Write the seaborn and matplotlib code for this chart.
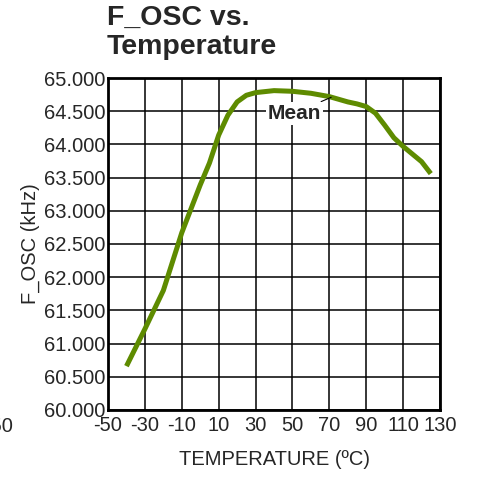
import matplotlib
matplotlib.use('Agg')
import matplotlib.pyplot as plt
import seaborn as sns
import pandas as pd

# Mean F_OSC
temperature = [-40, -30, -20, -10, 0, 5, 10, 15, 20, 25, 30, 40, 50, 60,
               70, 80, 85, 90, 95, 100, 105, 110, 120, 125]
f_osc = [60.66, 61.22, 61.80, 62.67, 63.39, 63.72, 64.14, 64.44, 64.64,
         64.74, 64.78, 64.81, 64.80, 64.77, 64.72, 64.64, 64.61, 64.57,
         64.47, 64.29, 64.10, 63.97, 63.74, 63.56]

x_ticks = [-50, -30, -10, 10, 30, 50, 70, 90, 110, 130]
y_ticks = [60.0, 60.5, 61.0, 61.5, 62.0, 62.5, 63.0, 63.5, 64.0, 64.5, 65.0]

df = pd.DataFrame({'temp': temperature, 'fosc': f_osc})

sns.set_style('white')
plt.rcParams['font.family'] = ['Liberation Sans', 'DejaVu Sans']

fig = plt.figure(figsize=(4.79, 4.78), dpi=100)
ax = fig.add_axes([0.2255, 0.1423, 0.6931, 0.6945])

sns.lineplot(data=df, x='temp', y='fosc', ax=ax, color='#5e8b00',
             linewidth=3.6, solid_capstyle='butt', zorder=3)

ax.set_xlim(-50, 130)
ax.set_ylim(60, 65)
ax.set_xticks(x_ticks)
ax.set_yticks(y_ticks)
ax.set_xticklabels([str(t) for t in x_ticks], fontsize=14.5)
ax.set_yticklabels([f'{v:.3f}' for v in y_ticks], fontsize=14.5)
ax.tick_params(axis='x', length=0, pad=4)
ax.tick_params(axis='y', length=0, pad=2)
ax.grid(True, color='black', linewidth=1.1)
for s in ax.spines.values():
    s.set_color('black')
    s.set_linewidth(2)

ax.set_xlabel('TEMPERATURE (ºC)', fontsize=14.5, labelpad=11)
ax.set_ylabel('F_OSC (kHz)', fontsize=14.5, labelpad=3)

# Mean label with leader line
ax.annotate('Mean', xy=(71, 64.71), xytext=(51, 64.47), fontsize=15,
            fontweight='bold', ha='center', va='center', zorder=4,
            bbox=dict(boxstyle='square,pad=0.1', fc='white', ec='none'),
            arrowprops=dict(arrowstyle='-', color='black', lw=0.8,
                            shrinkA=0, shrinkB=0))

fig.text(0.2235, 0.99, 'F_OSC vs.\nTemperature', fontsize=20.5,
         fontweight='bold', ha='left', va='top', linespacing=1.15)

# stray clipped tick label at the far left
fig.text(13 / 479, 1 - 427 / 478, '-50', fontsize=14.5, ha='right',
         va='center')

fig.savefig('out.png', dpi=100)
